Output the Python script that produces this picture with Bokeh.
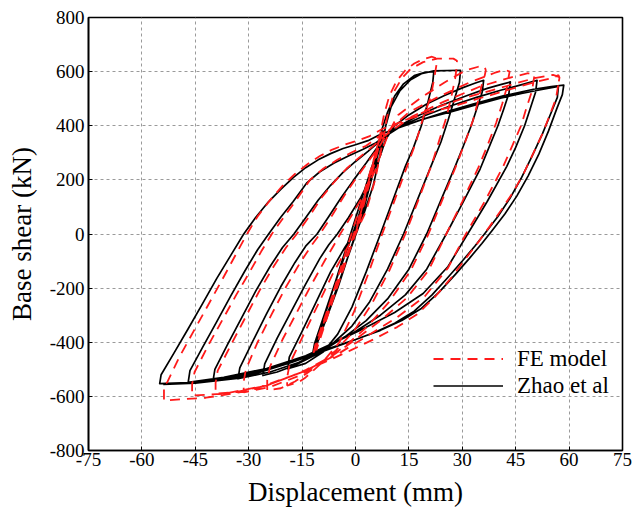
from bokeh.plotting import figure
from bokeh.models import Range1d, FixedTicker, Legend, LegendItem
from bokeh.embed import file_html
from bokeh.resources import INLINE

# ---------------- data (displacement mm, base shear kN) ----------------
x_ticks = [-75, -60, -45, -30, -15, 0, 15, 30, 45, 60, 75]
x_tick_labels = ["-75", "-60", "-45", "-30", "-15", "0", "15", "30", "45", "60", "75"]
y_ticks = [-800, -600, -400, -200, 0, 200, 400, 600, 800]
y_tick_labels = ["-800", "-600", "-400", "-200", "0", "200", "400", "600", "800"]

# Zhao et al (test) - branches of the continuous hysteresis path
zhao_x = [
    [0, 3.5, 7.5, 7, 1, -5, -11.5, -11, -5, 1.5, 7.8, 7.3, 1.5, -5.5, -12],
    [-11.5, -6, 0, 4, 6, 7.5, 9, 11, 13.5, 16.5, 19.5, 22],
    [21.7, 20.2, 18.5, 16.3, 14, 10.5, 7, 3, -1, -5, -9, -14, -19],
    [-18.6, -15, -11, -7, -3, -0.5, 2.5, 5, 7, 8.5, 10, 12.5, 15.5, 18.5, 22, 29.5],
    [29.2, 27.6, 26, 24, 21.5, 17.5, 13.5, 9, 4, -1, -6, -11, -17, -22, -26],
    [-25.5, -22, -18, -14, -10, -7.5, -5.1, -2, 1.5, 4.5, 7, 8.5, 11, 15, 20, 25, 30, 33.5, 36],
    [35.6, 34, 32.5, 30.3, 28, 24, 20, 15, 9, 3, -3, -9, -16, -24, -33],
    [-32.5, -29, -25, -21, -17, -14, -10.8, -7.5, -4, -0.5, 3, 6, 9, 13, 18, 24, 31, 37, 41, 43.5],
    [43.1, 41.6, 40, 37.5, 35, 30.3, 25.5, 20, 14, 7, 0, -7, -15, -25, -34, -40],
    [-39.5, -36, -32, -28, -24, -20.5, -17.3, -14, -10.5, -7, -3.5, 0, 3.5, 7, 9.5, 13, 19, 26,
     34, 41, 47, 51],
    [50.6, 49, 47.5, 45, 42.5, 37, 31.5, 26, 19, 11, 3, -5, -14, -25, -37, -47],
    [-46.5, -43, -39, -35, -31, -27.5, -24.4, -21, -17.5, -13.6, -10, -6, -2, 2, 5.5, 8, 12, 18,
     25, 33, 42, 50, 55, 58.5],
    [58.1, 56.6, 54.2, 51.5, 48.5, 45.3, 42, 38.5, 35.5, 32, 28, 23.5, 18.5, 13, 7, 0, -8,
     -18, -32, -45, -51, -55],
    [-54.6, -51, -47, -43, -39, -35, -31.4, -28, -24.5, -21, -17.5, -14, -10.5, -7, -3.5, 0,
     3.5, 6.5, 13, 20, 27, 34, 41, 47, 52, 57],
    [56.7, 55, 52.5, 49.5, 46.5, 43.3, 40, 36.5, 33.5, 30, 26, 21.5, 16.5, 11, 5, -2, -9,
     -18, -32, -45, -54],
]
zhao_y = [
    [0, 180, 375, 340, 40, -200, -430, -400, -150, 120, 380, 345, 50, -210, -440],
    [-405, -190, 30, 200, 310, 390, 450, 510, 555, 585, 597, 600],
    [560, 480, 400, 320, 250, 125, 0, -140, -270, -370, -435, -478, -498],
    [-455, -360, -250, -140, -50, 0, 80, 180, 300, 400, 470, 530, 570, 592, 603, 605],
    [560, 490, 420, 340, 260, 130, 0, -130, -250, -340, -400, -445, -485, -510, -523],
    [-480, -385, -285, -185, -90, -40, 0, 60, 135, 215, 290, 350, 400, 440, 480, 512, 540, 557, 568],
    [525, 460, 400, 325, 250, 125, 0, -130, -240, -320, -380, -430, -475, -510, -535],
    [-495, -400, -295, -195, -105, -45, 0, 65, 135, 200, 262, 318, 368, 405, 440, 475, 510, 538,
     553, 562],
    [520, 460, 400, 320, 240, 120, 0, -130, -225, -300, -360, -410, -460, -503, -528, -541],
    [-500, -410, -310, -210, -120, -50, 0, 60, 125, 180, 228, 268, 305, 345, 370, 400, 435, 470,
     505, 532, 553, 568],
    [525, 460, 400, 320, 250, 120, 0, -120, -220, -290, -345, -395, -450, -497, -530, -548],
    [-505, -420, -325, -228, -135, -58, 0, 62, 120, 190, 230, 262, 288, 312, 335, 360, 392, 420,
     450, 480, 512, 535, 545, 550],
    [515, 465, 380, 295, 215, 140, 75, 15, -35, -90, -150, -215, -275, -320, -356, -390, -425,
     -470, -527, -548, -551, -553],
    [-520, -440, -350, -258, -165, -78, 0, 62, 118, 165, 208, 245, 274, 297, 316, 330,
     345, 365, 398, 428, 452, 478, 503, 520, 533, 545],
    [505, 450, 370, 285, 205, 130, 65, 5, -45, -100, -160, -225, -285, -330, -366, -400, -433,
     -475, -532, -551, -556],
]

# FE model - branches of the continuous hysteresis path
fe_x = [
    [0, 3.5, 7, 6.5, 0.5, -5.5, -11, -10.5, -4.5, 1.5, 7.5, 7, 1, -6, -12],
    [-11.3, -5.5, 0.5, 4.5, 6.5, 8, 9.5, 11.5, 14, 16.5, 19, 21.5, 22.5, 22.8],
    [22.3, 21.2, 19, 17, 14.5, 11, 7.5, 3.5, -0.5, -4.5, -9, -14, -16, -19.2, -19.2],
    [-18.5, -14.5, -10.5, -6.5, -2.5, 0, 3, 5.5, 7.5, 9, 11, 13, 15.5, 19, 23, 27.5, 28.5, 28.4],
    [28, 26.8, 25.5, 23.5, 21.5, 17.8, 14, 9.5, 4.5, -0.5, -5.5, -11, -17, -21, -24.8, -24.8],
    [-24, -20.5, -16.5, -12.5, -8.5, -6, -4.3, -1, 2.5, 5.5, 7.5, 9.5, 12, 18, 25, 31, 34.5,
     36.3, 36.6, 36.3],
    [35.8, 34.5, 33, 30.8, 28.5, 24.5, 20.5, 15.5, 9.5, 3.5, -2.5, -9, -16, -24, -31.4, -31.4],
    [-30.8, -27.5, -23.5, -19.5, -15.5, -12.5, -10, -6.5, -3, 0.5, 4, 7, 9.5, 15, 23, 32, 39,
     42, 43.3, 43],
    [42.7, 41.2, 39.5, 37, 34.5, 30, 25.5, 20.5, 14.5, 7.5, 0.5, -6.5, -15, -25, -34, -39.3, -39.3],
    [-38.7, -35, -31, -27, -23, -19.5, -16.5, -13, -9.5, -6, -2.5, 1, 4.5, 8, 10, 16, 25, 35,
     44, 48.5, 50.3, 50],
    [49.6, 48, 46.5, 44, 41.5, 36.3, 31, 26, 19.5, 11.5, 3.5, -4.5, -14, -25, -37, -45.9, -45.9],
    [-45.2, -41.5, -37.5, -33.5, -29.5, -26.5, -23.5, -20, -16.5, -12.8, -9, -5, -1, 3, 6.5,
     12, 20, 30, 42, 50, 55.5, 57.3, 57],
    [56.3, 54.6, 52.5, 50, 47.3, 44.3, 41, 37.8, 34.5, 31, 27, 22.5, 17.5, 11.7, 5, -1.4, -8,
     -18, -30, -42, -53.8, -53.8],
    [-52.9, -49.5, -45.5, -41.5, -37.5, -34, -30.5, -27.5, -24, -20.5, -17, -13.5, -10, -6.5,
     -3, 0.5, 4, 7.5, 15, 21, 27, 34, 41, 46, 50, 55, 57, 57.3, 57],
]
fe_y = [
    [0, 185, 370, 335, 40, -210, -430, -395, -140, 110, 385, 345, 40, -230, -450],
    [-410, -190, 30, 220, 340, 440, 510, 565, 605, 630, 646, 655, 650, 630],
    [590, 510, 430, 340, 250, 125, 0, -150, -290, -400, -470, -530, -548, -560, -530],
    [-480, -370, -260, -150, -55, 0, 85, 200, 330, 440, 530, 575, 610, 635, 648, 648, 640, 615],
    [575, 500, 430, 345, 260, 130, 0, -135, -260, -360, -430, -490, -545, -570, -578, -540],
    [-490, -390, -290, -190, -95, -40, 0, 70, 150, 235, 310, 380, 440, 500, 560, 605, 618,
     617, 605, 585],
    [570, 495, 420, 340, 260, 130, 0, -135, -250, -340, -410, -470, -525, -565, -585, -545],
    [-500, -400, -295, -195, -105, -45, 0, 70, 145, 212, 275, 330, 385, 450, 505, 560, 595,
     607, 600, 580],
    [550, 480, 410, 325, 245, 120, 0, -135, -235, -315, -385, -450, -510, -560, -585, -590, -550],
    [-505, -410, -310, -210, -120, -50, 0, 65, 135, 192, 242, 282, 320, 360, 380, 435, 490, 545,
     580, 594, 588, 565],
    [530, 465, 400, 325, 250, 120, 0, -125, -230, -310, -375, -440, -505, -560, -590, -597, -555],
    [-510, -415, -320, -225, -135, -65, 0, 65, 128, 200, 242, 275, 302, 326, 360,
     410, 455, 500, 545, 575, 588, 580, 555],
    [500, 440, 370, 300, 225, 155, 90, 30, -30, -90, -160, -230, -295, -344, -390, -430, -470,
     -525, -580, -605, -615, -560],
    [-548, -455, -360, -265, -170, -85, 0, 65, 125, 178, 222, 258, 288, 312,
     330, 345, 362, 388, 425, 450, 470, 498, 525, 545, 560, 575, 587, 578, 555],
]

# ---------------- figure ----------------
SERIF = "Liberation Serif"

p = figure(width=633, height=514,
           x_range=Range1d(-75, 75), y_range=Range1d(-800, 800),
           output_backend="svg", toolbar_location=None, tools="",
           min_border_left=88, min_border_right=11, min_border_top=17,
           min_border_bottom=64)

p.background_fill_color = "white"
p.border_fill_color = "white"
p.outline_line_color = "black"
p.outline_line_width = 1.6

zx = [v for seg in zhao_x for v in seg]
zy = [v for seg in zhao_y for v in seg]
fx = [v for seg in fe_x for v in seg]
fy = [v for seg in fe_y for v in seg]

r_zhao = p.line(zx, zy, line_color="black", line_width=1.7, line_join="round")
r_fe = p.line(fx, fy, line_color="#ff1a1a", line_width=1.8, line_dash="10 7")

legend = Legend(items=[LegendItem(label="FE model", renderers=[r_fe]),
                       LegendItem(label="Zhao et al", renderers=[r_zhao])],
                location=(345, 51))
legend.background_fill_alpha = 0
legend.border_line_alpha = 0
legend.padding = 0
legend.margin = 0
legend.spacing = 0
legend.glyph_width = 70
legend.glyph_height = 27
legend.label_height = 27
legend.label_standoff = 14
legend.label_text_font = SERIF
legend.label_text_font_size = "23px"
legend.label_text_color = "black"
p.add_layout(legend)

# axes
for ax in (p.xaxis[0], p.yaxis[0]):
    ax.major_label_text_font = SERIF
    ax.major_label_text_font_size = "19px"
    ax.major_label_text_color = "black"
    ax.axis_label_text_font = SERIF
    ax.axis_label_text_font_size = "27px"
    ax.axis_label_text_font_style = "normal"
    ax.axis_label_text_color = "black"
    ax.axis_line_color = "black"
    ax.axis_line_width = 1.6
    ax.major_tick_in = 4
    ax.major_tick_out = 0
    ax.major_tick_line_color = "black"
    ax.minor_tick_line_color = None

p.xaxis.ticker = FixedTicker(ticks=x_ticks)
p.yaxis.ticker = FixedTicker(ticks=y_ticks)
p.xaxis.major_label_overrides = dict(zip(x_ticks, x_tick_labels))
p.yaxis.major_label_overrides = dict(zip(y_ticks, y_tick_labels))
p.xaxis.axis_label = "Displacement (mm)"
p.yaxis.axis_label = "Base shear (kN)"
p.xaxis.major_label_standoff = 2
p.yaxis.major_label_standoff = 4
p.xaxis.axis_label_standoff = 8
p.yaxis.axis_label_standoff = 10

p.grid.grid_line_color = "#9a9a9a"
p.grid.grid_line_dash = "3 3"
p.grid.grid_line_width = 1

open("out.html", "w").write(file_html(p, INLINE))
